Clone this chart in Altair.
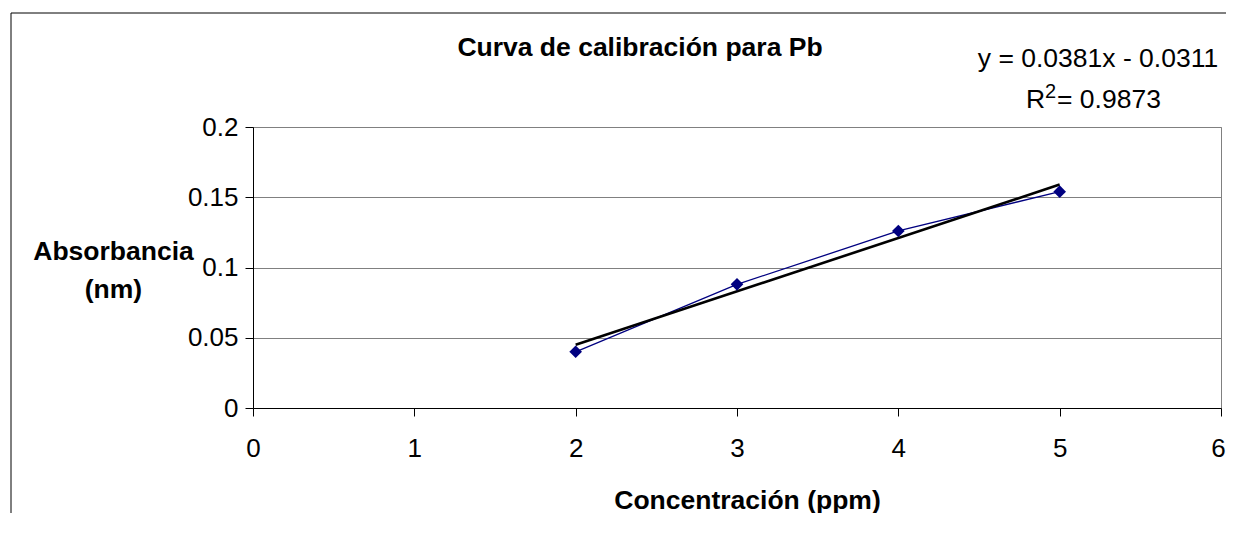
import altair as alt
import pandas as pd

# ---- data ----
conc = [2, 3, 4, 5]
absorb = [0.040, 0.088, 0.126, 0.154]
x_ticks = [0, 1, 2, 3, 4, 5, 6]
y_ticks = [0, 0.05, 0.1, 0.15, 0.2]
title_text = "Curva de calibración para Pb"
x_title = "Concentración (ppm)"
y_title = ["Absorbancia", "(nm)"]
eq_line1 = "y = 0.0381x - 0.0311"
eq_r = "R"
eq_sup = "2"
eq_r2 = "= 0.9873"

df = pd.DataFrame({"conc": conc, "absorb": absorb})
one = pd.DataFrame({"a": [0]})

FONT = "Liberation Sans"
FS = 26
FSB = 26.5
W, H = 968, 281

xs = alt.Scale(domain=[0, 6], nice=False, zero=False)
ys = alt.Scale(domain=[0, 0.2], nice=False)

x_enc = alt.X(
    "conc:Q", scale=xs,
    axis=alt.Axis(
        values=x_ticks, format="d", grid=False, title=x_title,
        titleX=494, titleY=100, titleBaseline="alphabetic", titleAlign="center",
        titleFontSize=FSB, titleFontWeight="bold", titleFont=FONT, titleColor="black",
        labelFontSize=FS, labelFont=FONT, labelColor="black",
        labelBaseline="alphabetic", labelPadding=40, labelFlush=False,
        labelOffset={"condition": {"test": "datum.value == 6", "value": -3}, "value": 0},
        domainColor="black", tickColor="black", tickSize=8,
    ),
)
y_enc = alt.Y(
    "absorb:Q", scale=ys,
    axis=alt.Axis(
        values=y_ticks, format=".2~f", grid=True, gridColor="#808080",
        title=y_title, titleAngle=0, titleX=-140, titleY=132,
        titleAlign="center", titleBaseline="alphabetic", titleLineHeight=38,
        titleFontSize=FSB, titleFontWeight="bold", titleFont=FONT, titleColor="black",
        labelFontSize=FS, labelFont=FONT, labelColor="black",
        labelPadding=7, labelFlush=False,
        domainColor="black", tickColor="black", tickSize=8,
    ),
)

base = alt.Chart(df)

line = base.mark_line(color="#000080", strokeWidth=1.3).encode(x=x_enc, y=y_enc)
pts = base.mark_point(shape="diamond", filled=True, size=160, color="#000080", opacity=1).encode(
    x="conc:Q", y="absorb:Q"
)
trend = base.transform_regression("conc", "absorb").mark_line(
    color="black", strokeWidth=2.6
).encode(x="conc:Q", y="absorb:Q")

border = alt.Chart(one).mark_rect(fillOpacity=0, stroke="black", strokeWidth=1).encode(
    x=alt.value(-242), x2=alt.value(1200), y=alt.value(-114), y2=alt.value(600)
)

title = alt.Chart(one).mark_text(
    text=title_text, font=FONT, fontSize=FSB, fontWeight="bold", align="center",
    baseline="alphabetic", color="black"
).encode(x=alt.value(387), y=alt.value(-71))

eq1 = alt.Chart(one).mark_text(
    text=eq_line1, font=FONT, fontSize=FSB, align="center", baseline="alphabetic", color="black"
).encode(x=alt.value(845), y=alt.value(-60))

eqR = alt.Chart(one).mark_text(
    text=eq_r, font=FONT, fontSize=FSB, align="left", baseline="alphabetic", color="black"
).encode(x=alt.value(773), y=alt.value(-19))
eqS = alt.Chart(one).mark_text(
    text=eq_sup, font=FONT, fontSize=20, align="left", baseline="alphabetic", color="black"
).encode(x=alt.value(792), y=alt.value(-29))
eq2 = alt.Chart(one).mark_text(
    text=eq_r2, font=FONT, fontSize=FSB, align="left", baseline="alphabetic", color="black"
).encode(x=alt.value(804), y=alt.value(-19))

chart = alt.layer(border, line, trend, pts, title, eq1, eqR, eqS, eq2).properties(
    width=W, height=H,
    autosize=alt.AutoSizeParams(type="none"),
    padding={"left": 245, "top": 119, "right": 5, "bottom": 105},
    background="white",
).configure_view(stroke="#808080", strokeWidth=1)

chart.save("out.html", embed_options={"renderer": "svg", "actions": False})
